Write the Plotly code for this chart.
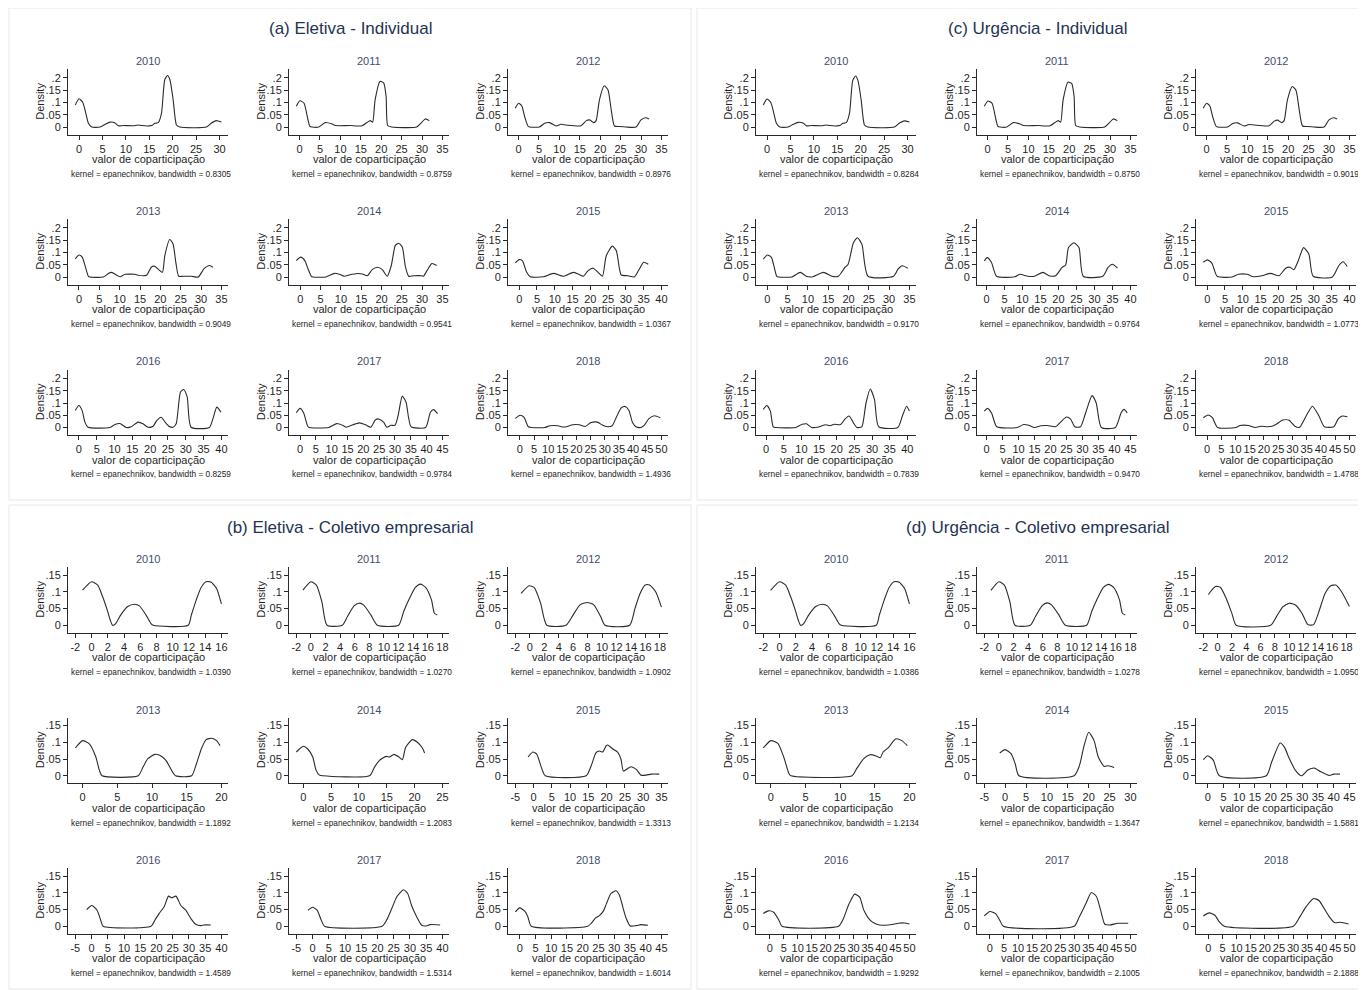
import plotly.graph_objects as go

W, H = 1366, 990
OFF = 8  # browser body margin
FW, FH = W - OFF, H - OFF
years = [2010, 2011, 2012, 2013, 2014, 2015, 2016, 2017, 2018]
panel_titles = ["(a) Eletiva - Individual", "(b) Eletiva - Coletivo empresarial",
                "(c) Urgência - Individual", "(d) Urgência - Coletivo empresarial"]

# ---------------- (a) Eletiva - Individual ----------------
a2010_x = [-0.8, 0, 0.8, 1.4, 2.0, 2.7, 4.5, 5.5, 6.6, 7.7, 8.4, 9.4, 11.6, 12.6, 14.4, 15.5, 16.2, 16.9, 17.6, 18.3, 18.9, 19.4, 20.1, 20.8, 21.5, 27.2, 28.2, 29.3, 30.4]
a2010_y = [0.09, 0.115, 0.1, 0.06, 0.015, 0, 0, 0.01, 0.02, 0.016, 0.005, 0.006, 0.005, 0.008, 0.004, 0.006, 0.015, 0.018, 0.056, 0.193, 0.21, 0.193, 0.11, 0.008, 0, 0, 0.015, 0.026, 0.02]
a2011_x = [-0.8, 0.1, 1.1, 1.9, 2.5, 3.1, 4.7, 6.3, 8.0, 8.8, 12.4, 14.0, 15.3, 16.5, 17.3, 17.9, 18.5, 19.7, 20.6, 21.2, 21.6, 22.6, 28.7, 29.7, 30.8, 31.8]
a2011_y = [0.085, 0.107, 0.097, 0.042, 0.004, 0, 0, 0.018, 0.012, 0.006, 0.006, 0.004, 0.005, 0.018, 0.026, 0.02, 0.11, 0.186, 0.18, 0.125, 0.006, 0, 0, 0.015, 0.033, 0.026]
a2012_x = [-0.8, 0, 0.8, 1.5, 2.3, 2.7, 5.1, 6.4, 7.6, 9.2, 10.4, 11.7, 15.3, 16.6, 17.4, 18.4, 19.0, 19.8, 21.0, 21.9, 22.7, 23.5, 24.7, 26.3, 28.8, 30.0, 31.1, 32.0]
a2012_y = [0.077, 0.097, 0.086, 0.042, 0.004, 0, 0, 0.015, 0.018, 0.004, 0.011, 0.008, 0.005, 0.026, 0.029, 0.018, 0.026, 0.11, 0.168, 0.152, 0.07, 0.004, 0.002, 0, 0, 0.029, 0.038, 0.033]
a2013_x = [-0.9, 0, 0.8, 1.6, 2.3, 2.7, 6.0, 7.2, 8.0, 8.8, 10.1, 11.3, 13.7, 14.5, 16.6, 17.8, 18.6, 19.4, 20.5, 21.1, 22.3, 23.1, 23.8, 24.5, 25.6, 27.6, 29.3, 30.7, 32.1, 32.9]
a2013_y = [0.074, 0.09, 0.081, 0.04, 0.003, 0, 0, 0.014, 0.019, 0.012, 0.001, 0.011, 0.011, 0.007, 0.007, 0.041, 0.044, 0.033, 0.019, 0.088, 0.153, 0.136, 0.06, 0.003, 0.003, 0.003, 0, 0.033, 0.047, 0.04]
a2014_x = [-1.0, 0.1, 1.1, 1.9, 2.7, 3.1, 6.3, 8.4, 9.6, 10.8, 12.0, 14.1, 15.3, 16.5, 17.7, 19.0, 20.2, 21.4, 22.4, 23.4, 24.2, 25.1, 25.9, 26.7, 27.9, 29.9, 30.3, 31.2, 32.4, 33.6]
a2014_y = [0.067, 0.081, 0.067, 0.033, 0.003, 0, 0, 0.015, 0.011, 0.003, 0.008, 0.014, 0.012, 0.005, 0.03, 0.04, 0.03, 0.003, 0.047, 0.129, 0.138, 0.122, 0.04, 0.003, 0.005, 0.005, 0.003, 0.026, 0.055, 0.047]
a2015_x = [-1.1, 0, 0.9, 2.1, 3.1, 6.8, 9.6, 12.4, 15.2, 16.6, 18.0, 19.4, 20.8, 22.2, 23.4, 24.5, 26.2, 27.3, 28.2, 28.7, 30.6, 32.4, 33.8, 35.0, 36.3]
a2015_y = [0.058, 0.071, 0.066, 0.019, 0.001, 0.001, 0.015, 0.003, 0.019, 0.012, 0.003, 0.026, 0.036, 0.019, 0.003, 0.088, 0.126, 0.108, 0.033, 0.008, 0.005, 0, 0.033, 0.06, 0.052]
a2016_x = [-1.0, 0, 0.9, 1.7, 2.6, 8.7, 10.1, 11.5, 13.3, 14.7, 16.6, 18.0, 19.4, 20.8, 21.9, 23.1, 24.2, 25.4, 26.4, 27.3, 28.5, 29.4, 30.4, 31.5, 36.6, 37.6, 38.7, 39.9]
a2016_y = [0.07, 0.09, 0.07, 0.022, 0.001, 0, 0.012, 0.016, 0, 0.003, 0.022, 0.015, 0.001, 0.005, 0.029, 0.042, 0.022, 0.004, 0.001, 0.015, 0.144, 0.155, 0.124, 0.001, 0, 0.035, 0.083, 0.062]
a2017_x = [-1.2, 0, 1.1, 2.4, 2.9, 9.0, 11.6, 13.6, 14.6, 16.7, 18.7, 20.7, 22.3, 23.8, 24.8, 26.4, 27.4, 28.7, 30.0, 31.0, 32.3, 33.5, 34.3, 35.1, 39.7, 41.2, 42.2, 43.5]
a2017_y = [0.06, 0.078, 0.06, 0.005, 0, 0, 0.016, 0.008, 0.001, 0.011, 0.019, 0.011, 0.001, 0.031, 0.035, 0.022, 0.001, 0.009, 0.009, 0.049, 0.128, 0.103, 0.04, 0.003, 0, 0.062, 0.073, 0.056]
a2018_x = [-1.6, 0.1, 1.5, 3.0, 4.2, 8.8, 10.6, 13.5, 14.6, 16.4, 18.7, 21.0, 23.1, 25.1, 27.4, 29.1, 30.9, 32.6, 34.2, 35.8, 37.2, 38.5, 39.8, 41.0, 42.7, 44.0, 45.5, 47.5, 49.6]
a2018_y = [0.037, 0.05, 0.041, 0.003, 0, 0, 0.007, 0.007, 0.003, 0.003, 0.011, 0.011, 0.004, 0.02, 0.022, 0.01, 0.003, 0.007, 0.045, 0.08, 0.086, 0.07, 0.02, 0.003, 0, 0.01, 0.035, 0.048, 0.04]

# ---------------- (c) Urgência - Individual ----------------
c2010_x = [-0.8, 0, 0.8, 1.4, 2.0, 2.7, 4.5, 5.5, 6.6, 7.7, 8.4, 9.4, 11.6, 12.6, 14.4, 15.5, 16.2, 16.9, 17.6, 18.3, 18.9, 19.4, 20.1, 20.8, 21.5, 27.2, 28.2, 29.3, 30.4]
c2010_y = [0.09, 0.114, 0.1, 0.06, 0.015, 0, 0, 0.01, 0.019, 0.016, 0.005, 0.006, 0.005, 0.008, 0.004, 0.006, 0.015, 0.018, 0.056, 0.19, 0.208, 0.19, 0.11, 0.008, 0, 0, 0.015, 0.025, 0.02]
c2011_x = [-0.8, 0.1, 1.1, 1.9, 2.5, 3.1, 4.7, 6.3, 8.0, 8.8, 12.4, 14.0, 15.3, 16.5, 17.3, 17.9, 18.5, 19.7, 20.6, 21.2, 21.6, 22.6, 28.7, 29.7, 30.8, 31.8]
c2011_y = [0.085, 0.106, 0.097, 0.042, 0.004, 0, 0, 0.018, 0.012, 0.006, 0.006, 0.004, 0.005, 0.018, 0.026, 0.02, 0.11, 0.183, 0.178, 0.125, 0.006, 0, 0, 0.015, 0.033, 0.026]
c2012_x = [-0.8, 0, 0.8, 1.5, 2.3, 2.7, 5.1, 6.4, 7.6, 9.2, 10.4, 11.7, 15.3, 16.6, 17.4, 18.4, 19.0, 19.8, 21.0, 21.9, 22.7, 23.5, 24.7, 26.3, 28.8, 30.0, 31.1, 32.0]
c2012_y = [0.077, 0.097, 0.086, 0.042, 0.004, 0, 0, 0.014, 0.017, 0.004, 0.01, 0.008, 0.005, 0.024, 0.028, 0.018, 0.026, 0.11, 0.165, 0.15, 0.07, 0.004, 0.002, 0, 0, 0.029, 0.038, 0.033]
c2013_x = [-1.0, 0, 1.0, 2.3, 2.8, 6.0, 8.1, 9.6, 11.2, 13.8, 15.9, 17.5, 19.1, 19.9, 21.2, 22.2, 23.3, 24.8, 31.1, 32.2, 33.2, 34.6]
c2013_y = [0.073, 0.09, 0.08, 0.003, 0, 0, 0.019, 0.003, 0.001, 0.019, 0.003, 0.003, 0.039, 0.052, 0.14, 0.16, 0.133, 0.003, 0.003, 0.032, 0.046, 0.036]
c2014_x = [-0.6, 0.2, 1.4, 2.8, 7.9, 9.3, 11.5, 13.3, 15.7, 17.4, 19.2, 21.0, 22.0, 22.8, 24.3, 25.7, 26.9, 32.3, 33.8, 35.0, 36.4]
c2014_y = [0.066, 0.079, 0.059, 0.003, 0.001, 0.011, 0.003, 0.003, 0.019, 0.005, 0.005, 0.039, 0.049, 0.12, 0.14, 0.12, 0.003, 0.003, 0.039, 0.052, 0.036]
c2015_x = [-1.1, 0, 1.3, 2.8, 7.0, 8.8, 11.2, 13.0, 15.4, 17.8, 20.2, 22.0, 23.2, 24.4, 25.6, 27.1, 28.6, 29.8, 35.2, 37.0, 38.2, 39.4]
c2015_y = [0.06, 0.07, 0.057, 0.003, 0, 0.011, 0.011, 0.001, 0.005, 0.015, 0.005, 0.035, 0.04, 0.03, 0.066, 0.12, 0.093, 0.003, 0, 0.046, 0.062, 0.043]
c2016_x = [-0.8, 0.2, 1.2, 2.0, 2.8, 8.4, 10.2, 11.4, 12.9, 14.5, 16.9, 18.1, 19.3, 21.1, 22.3, 23.5, 24.7, 25.7, 27.1, 28.3, 29.5, 30.7, 31.9, 37.3, 38.6, 39.8, 40.6]
c2016_y = [0.074, 0.09, 0.067, 0.003, 0, 0, 0.013, 0.015, 0, 0.001, 0.011, 0.007, 0.013, 0.012, 0.034, 0.047, 0.02, 0, 0.003, 0.1, 0.157, 0.114, 0.003, 0, 0.047, 0.087, 0.067]
c2017_x = [-0.7, 0.3, 1.6, 3.2, 9.6, 11.6, 13.2, 15.0, 17.0, 19.0, 21.6, 23.0, 25.0, 26.3, 27.6, 29.4, 31.0, 33.0, 34.3, 35.9, 40.3, 42.1, 43.0, 44.0]
c2017_y = [0.067, 0.078, 0.058, 0.003, 0, 0.012, 0.009, 0, 0.007, 0.008, 0.003, 0.02, 0.043, 0.034, 0.003, 0.003, 0.06, 0.13, 0.1, 0, 0, 0.06, 0.074, 0.06]
c2018_x = [-1.3, 0.4, 1.9, 3.7, 10.1, 11.6, 14.6, 16.9, 19.1, 21.3, 22.8, 24.3, 26.6, 28.8, 31.0, 32.5, 34.8, 37.0, 39.3, 41.2, 44.5, 46.0, 47.5, 49.3]
c2018_y = [0.04, 0.051, 0.04, 0, 0, 0.008, 0.008, 0, 0.005, 0.003, 0.005, 0.013, 0.031, 0.03, 0.004, 0.001, 0.047, 0.087, 0.047, 0.003, 0.003, 0.034, 0.047, 0.044]

# ---------------- (b) Eletiva - Coletivo empresarial ----------------
b2010_x = [-1.1, 0, 0.76, 1.37, 1.99, 2.3, 2.6, 3.0, 3.6, 4.46, 5.28, 5.9, 6.7, 7.3, 7.6, 11.9, 12.3, 12.9, 13.5, 14.1, 14.7, 15.4, 16.0]
b2010_y = [0.105, 0.13, 0.12, 0.085, 0.041, 0.016, 0, 0.006, 0.031, 0.056, 0.063, 0.058, 0.031, 0.006, 0, 0, 0.031, 0.076, 0.113, 0.13, 0.129, 0.11, 0.064]
b2011_x = [-1.1, 0, 0.75, 1.5, 2.2, 4.3, 5.0, 5.9, 6.6, 7.2, 8.2, 9.1, 12.0, 12.7, 13.4, 14.3, 15.0, 15.7, 16.5, 16.9, 17.3]
b2011_y = [0.105, 0.13, 0.12, 0.07, 0, 0, 0.026, 0.058, 0.066, 0.061, 0.031, 0, 0, 0.041, 0.076, 0.113, 0.123, 0.113, 0.076, 0.036, 0.031]
b2012_x = [-1.2, -0.1, 0.6, 1.5, 2.35, 5.0, 6.0, 6.95, 7.95, 8.85, 9.8, 10.4, 13.8, 14.55, 15.25, 15.95, 16.55, 17.4, 18.2]
b2012_y = [0.095, 0.118, 0.113, 0.066, 0, 0, 0.031, 0.061, 0.068, 0.061, 0.026, 0, 0, 0.051, 0.095, 0.12, 0.12, 0.1, 0.054]
b2013_x = [-1.06, 0, 0.96, 1.9, 2.4, 2.8, 8.0, 8.7, 9.4, 10.4, 11.1, 12.0, 12.8, 13.4, 15.7, 16.4, 17.1, 17.8, 18.6, 19.3, 19.8]
b2013_y = [0.083, 0.105, 0.095, 0.056, 0.017, 0, 0, 0.026, 0.051, 0.064, 0.061, 0.046, 0.017, 0, 0, 0.036, 0.08, 0.108, 0.112, 0.105, 0.09]
b2014_x = [-1.25, 0, 0.8, 1.7, 2.3, 2.9, 3.5, 11.9, 12.8, 13.7, 14.9, 15.5, 16.3, 17.2, 17.8, 18.4, 19.6, 20.5, 21.4, 21.8]
b2014_y = [0.071, 0.088, 0.08, 0.056, 0.017, 0.002, 0, 0, 0.026, 0.046, 0.058, 0.056, 0.064, 0.056, 0.048, 0.085, 0.108, 0.1, 0.083, 0.068]
b2015_x = [-1.5, -0.2, 0.9, 2.1, 3.2, 14.4, 15.8, 17.1, 18.0, 18.9, 19.9, 20.3, 21.7, 23.0, 23.9, 24.6, 25.8, 26.7, 28.1, 29.4, 30.8, 32.2, 34.4]
b2015_y = [0.056, 0.071, 0.064, 0.026, 0, 0, 0.031, 0.069, 0.074, 0.071, 0.09, 0.092, 0.08, 0.071, 0.051, 0.014, 0.022, 0.027, 0.019, 0.002, 0.002, 0.005, 0.005]
b2016_x = [-1.5, 0.1, 1.7, 2.9, 3.6, 18.3, 19.6, 20.8, 22.4, 23.7, 24.7, 26.0, 27.5, 29.0, 30.6, 32.1, 33.6, 34.7, 36.7]
b2016_y = [0.05, 0.062, 0.048, 0.016, 0, 0, 0.02, 0.038, 0.059, 0.09, 0.085, 0.09, 0.062, 0.048, 0.023, 0.006, 0.002, 0.004, 0.004]
b2017_x = [-1.4, 0, 1.4, 2.7, 3.7, 21.4, 22.9, 24.4, 26.0, 28.0, 29.3, 30.5, 32.1, 33.6, 35.0, 36.2, 39.3]
b2017_y = [0.048, 0.057, 0.048, 0.018, 0, 0, 0.02, 0.053, 0.089, 0.109, 0.098, 0.062, 0.028, 0.003, 0.001, 0.005, 0.004]
b2018_x = [-1.4, 0, 1.6, 2.6, 3.7, 21.6, 22.7, 24.1, 25.3, 26.6, 27.5, 29.0, 30.6, 31.7, 32.7, 33.8, 35.1, 37.0, 38.5, 40.7]
b2018_y = [0.043, 0.055, 0.045, 0.028, 0, 0, 0.009, 0.025, 0.032, 0.046, 0.067, 0.098, 0.106, 0.092, 0.059, 0.024, 0.001, 0.002, 0.005, 0.003]

# ---------------- (d) Urgência - Coletivo empresarial ----------------
d2010_x = [-1.1, 0, 0.76, 1.37, 1.99, 2.3, 2.6, 3.0, 3.6, 4.46, 5.28, 5.9, 6.7, 7.3, 7.6, 11.9, 12.3, 12.9, 13.5, 14.1, 14.7, 15.4, 16.0]
d2010_y = [0.104, 0.13, 0.12, 0.085, 0.041, 0.016, 0, 0.006, 0.031, 0.056, 0.063, 0.058, 0.031, 0.006, 0, 0, 0.031, 0.076, 0.113, 0.13, 0.129, 0.11, 0.064]
d2011_x = [-1.1, 0, 0.75, 1.5, 2.2, 4.3, 5.0, 5.9, 6.6, 7.2, 8.2, 9.1, 12.0, 12.7, 13.4, 14.3, 15.0, 15.7, 16.5, 16.9, 17.3]
d2011_y = [0.104, 0.13, 0.12, 0.07, 0, 0, 0.026, 0.058, 0.067, 0.061, 0.031, 0, 0, 0.041, 0.076, 0.113, 0.122, 0.113, 0.076, 0.036, 0.031]
d2012_x = [-1.3, -0.3, 0.4, 1.2, 2.0, 2.6, 7.4, 8.2, 9.1, 10.0, 10.9, 11.8, 12.6, 13.4, 14.2, 15.0, 15.8, 16.5, 17.3, 18.4]
d2012_y = [0.092, 0.116, 0.113, 0.08, 0.035, 0, 0, 0.025, 0.055, 0.066, 0.06, 0.035, 0.002, 0.002, 0.045, 0.095, 0.118, 0.12, 0.1, 0.056]
d2013_x = [-1.1, 0, 1.0, 1.85, 2.6, 2.9, 11.7, 12.4, 13.4, 14.3, 15.2, 15.8, 16.2, 17.0, 18.0, 18.9, 19.7]
d2013_y = [0.083, 0.105, 0.097, 0.056, 0.007, 0, 0, 0.022, 0.051, 0.063, 0.059, 0.054, 0.071, 0.085, 0.11, 0.105, 0.09]
d2014_x = [-1.3, 0, 1.4, 2.4, 3.3, 16.5, 17.8, 18.8, 20.0, 21.3, 22.3, 23.7, 24.7, 26.1]
d2014_y = [0.068, 0.078, 0.066, 0.036, 0, 0, 0.031, 0.085, 0.13, 0.105, 0.056, 0.028, 0.03, 0.025]
d2015_x = [-1.4, 0, 1.8, 3.7, 18.6, 20.3, 23.0, 24.4, 25.7, 27.8, 29.8, 31.8, 33.9, 35.9, 38.6, 40.0, 42.0]
d2015_y = [0.048, 0.06, 0.046, 0, 0, 0.041, 0.098, 0.085, 0.056, 0.017, 0, 0.017, 0.023, 0.012, 0.001, 0.005, 0.005]
d2016_x = [-2.3, -0.5, 1.4, 3.3, 4.4, 24.6, 26.1, 28.4, 30.4, 32.2, 33.7, 36.0, 38.3, 40.6, 44.4, 45.9, 48.2, 50.0]
d2016_y = [0.038, 0.046, 0.042, 0.018, 0, 0, 0.018, 0.067, 0.096, 0.087, 0.048, 0.018, 0.006, 0.003, 0.006, 0.009, 0.01, 0.007]
d2017_x = [-2.0, 0, 2.0, 3.5, 4.8, 30.0, 31.8, 34.1, 36.1, 37.9, 39.4, 40.9, 42.7, 45.5, 49.2]
d2017_y = [0.031, 0.044, 0.038, 0.018, 0, 0, 0.028, 0.067, 0.101, 0.089, 0.048, 0.006, 0.004, 0.009, 0.009]
d2018_x = [-1.8, 0.3, 2.3, 3.8, 5.7, 30.1, 32.4, 34.6, 37.3, 39.2, 40.7, 42.9, 44.7, 46.7, 49.7]
d2018_y = [0.031, 0.04, 0.033, 0.014, 0, 0, 0.028, 0.058, 0.083, 0.077, 0.058, 0.028, 0.011, 0.012, 0.007]

# bandwidths shown in notes
a_bw = ["0.8305", "0.8759", "0.8976", "0.9049", "0.9541", "1.0367", "0.8259", "0.9784", "1.4936"]
c_bw = ["0.8284", "0.8750", "0.9019", "0.9170", "0.9764", "1.0773", "0.7839", "0.9470", "1.4788"]
b_bw = ["1.0390", "1.0270", "1.0902", "1.1892", "1.2083", "1.3313", "1.4589", "1.5314", "1.6014"]
d_bw = ["1.0386", "1.0278", "1.0950", "1.2134", "1.3647", "1.5881", "1.9292", "2.1005", "2.1888"]

# x tick sets (start, end, step)
a_ticks = [(0, 30, 5), (0, 35, 5), (0, 35, 5), (0, 35, 5), (0, 35, 5), (0, 40, 5), (0, 40, 5), (0, 45, 5), (0, 50, 5)]
c_ticks = [(0, 30, 5), (0, 35, 5), (0, 35, 5), (0, 35, 5), (0, 40, 5), (0, 40, 5), (0, 40, 5), (0, 45, 5), (0, 50, 5)]
b_ticks = [(-2, 16, 2), (-2, 18, 2), (-2, 18, 2), (0, 20, 5), (0, 25, 5), (-5, 35, 5), (-5, 40, 5), (-5, 40, 5), (0, 45, 5)]
d_ticks = [(-2, 16, 2), (-2, 18, 2), (-2, 18, 2), (0, 20, 5), (-5, 30, 5), (0, 45, 5), (0, 50, 5), (0, 50, 5), (0, 50, 5)]

# y ticks
y_ticks_ind = [0, 0.05, 0.1, 0.15, 0.2]
y_labels_ind = ["0", ".05", ".1", ".15", ".2"]
y_ticks_col = [0, 0.05, 0.1, 0.15]
y_labels_col = ["0", ".05", ".1", ".15"]

a_curves = [(a2010_x, a2010_y), (a2011_x, a2011_y), (a2012_x, a2012_y), (a2013_x, a2013_y), (a2014_x, a2014_y),
            (a2015_x, a2015_y), (a2016_x, a2016_y), (a2017_x, a2017_y), (a2018_x, a2018_y)]
b_curves = [(b2010_x, b2010_y), (b2011_x, b2011_y), (b2012_x, b2012_y), (b2013_x, b2013_y), (b2014_x, b2014_y),
            (b2015_x, b2015_y), (b2016_x, b2016_y), (b2017_x, b2017_y), (b2018_x, b2018_y)]
c_curves = [(c2010_x, c2010_y), (c2011_x, c2011_y), (c2012_x, c2012_y), (c2013_x, c2013_y), (c2014_x, c2014_y),
            (c2015_x, c2015_y), (c2016_x, c2016_y), (c2017_x, c2017_y), (c2018_x, c2018_y)]
d_curves = [(d2010_x, d2010_y), (d2011_x, d2011_y), (d2012_x, d2012_y), (d2013_x, d2013_y), (d2014_x, d2014_y),
            (d2015_x, d2015_y), (d2016_x, d2016_y), (d2017_x, d2017_y), (d2018_x, d2018_y)]

# ---------------- layout geometry (page pixels) ----------------
FONT = "Liberation Sans, Arial, sans-serif"
INK = "#1f1f1f"
YEAR_C = "#3f4d6d"
TITLE_C = "#243352"

panels = [
    (panel_titles[0], a_curves, a_bw, a_ticks, y_ticks_ind, y_labels_ind, [-0.0306, 0.2367], 0, [69, 219, 369.5], 29),
    (panel_titles[1], b_curves, b_bw, b_ticks, y_ticks_col, y_labels_col, [-0.0215, 0.174], 0, [567, 717.5, 868], 527),
    (panel_titles[2], c_curves, c_bw, c_ticks, y_ticks_ind, y_labels_ind, [-0.0306, 0.2367], 688, [69, 219, 369.5], 29),
    (panel_titles[3], d_curves, d_bw, d_ticks, y_ticks_col, y_labels_col, [-0.0215, 0.174], 688, [567, 717.5, 868], 527),
]
col_lefts = [68, 289, 508]
PW, PH = 160, 65.5

fig = go.Figure()
annotations = []
layout = {}
n = 0


def px_x(v):
    return (v - OFF) / FW


def px_y(v):
    return 1 - (v - OFF) / FH


for title, curves, bws, ticks, ytv, ytt, yr, xoff, tops, ty in panels:
    annotations.append(dict(text=title, x=px_x(xoff + 350), y=px_y(ty), xref="paper", yref="paper",
                            showarrow=False, xanchor="center", yanchor="middle",
                            font=dict(family=FONT, size=17, color=TITLE_C)))
    for k in range(9):
        n += 1
        r, c = divmod(k, 3)
        left = xoff + col_lefts[c]
        top = tops[r]
        bottom = top + PH
        xs, ys = curves[k]
        t0, t1, ts = ticks[k]
        tv = list(range(t0, t1 + 1, ts))
        lo = min(xs[0], t0)
        hi = max(xs[-1], t1)
        span = hi - lo
        xr = [lo - 0.05 * span, hi + 0.045 * span]
        sfx = "" if n == 1 else str(n)
        layout["xaxis" + sfx] = dict(
            domain=[px_x(left), px_x(left + PW)], anchor="y" + sfx, range=xr,
            tickvals=tv, ticktext=[str(v) for v in tv], tickangle=0,
            showline=True, linecolor="#2a2a2a", linewidth=1, mirror=False,
            ticks="outside", ticklen=4, tickcolor="#2a2a2a", tickwidth=1,
            showgrid=False, zeroline=False, fixedrange=True,
            tickfont=dict(family=FONT, size=11, color=INK))
        layout["yaxis" + sfx] = dict(
            domain=[px_y(bottom), px_y(top)], anchor="x" + sfx, range=yr,
            tickvals=ytv, ticktext=ytt,
            showline=True, linecolor="#2a2a2a", linewidth=1,
            ticks="outside", ticklen=4, tickcolor="#2a2a2a", tickwidth=1,
            showgrid=False, zeroline=False, fixedrange=True,
            tickfont=dict(family=FONT, size=11, color=INK))
        fig.add_trace(go.Scatter(x=xs, y=ys, xaxis="x" + sfx, yaxis="y" + sfx, mode="lines",
                                 line=dict(color="#2b2b2b", width=1.1, shape="spline", smoothing=0.6),
                                 showlegend=False, hoverinfo="skip"))
        cx = left + PW / 2
        annotations.append(dict(text=str(years[k]), x=px_x(cx), y=px_y(top - 8), xref="paper", yref="paper",
                                showarrow=False, xanchor="center", yanchor="middle",
                                font=dict(family=FONT, size=11, color=YEAR_C)))
        annotations.append(dict(text="Density", x=px_x(left - 28), y=px_y(top + PH / 2), xref="paper", yref="paper",
                                showarrow=False, xanchor="center", yanchor="middle", textangle=-90,
                                font=dict(family=FONT, size=11, color=INK)))
        annotations.append(dict(text="valor de coparticipação", x=px_x(cx), y=px_y(bottom + 24.5),
                                xref="paper", yref="paper", showarrow=False, xanchor="center", yanchor="middle",
                                font=dict(family=FONT, size=11, color=INK)))
        annotations.append(dict(text="kernel = epanechnikov, bandwidth = " + bws[k], x=px_x(left + 1),
                                y=px_y(bottom + 39.5), xref="paper", yref="paper", showarrow=False,
                                xanchor="left", yanchor="middle",
                                font=dict(family=FONT, size=8.3, color="#222222")))

# panel frames
shapes = []
for (x0, y0, x1, y1) in [(9, 8, 691, 500), (9, 505, 691, 989), (697, 8, 1364, 500), (697, 505, 1364, 989)]:
    shapes.append(dict(type="rect", xref="paper", yref="paper", x0=px_x(x0), x1=px_x(x1), y0=px_y(y1), y1=px_y(y0),
                       line=dict(color="#e8e8e8", width=1), fillcolor="rgba(0,0,0,0)", layer="below"))

fig.update_layout(**layout)
fig.update_layout(width=FW, height=FH, autosize=False, margin=dict(l=0, r=0, t=0, b=0),
                  paper_bgcolor="white", plot_bgcolor="white", annotations=annotations, shapes=shapes,
                  font=dict(family=FONT, color=INK))
fig.write_html("out.html")
